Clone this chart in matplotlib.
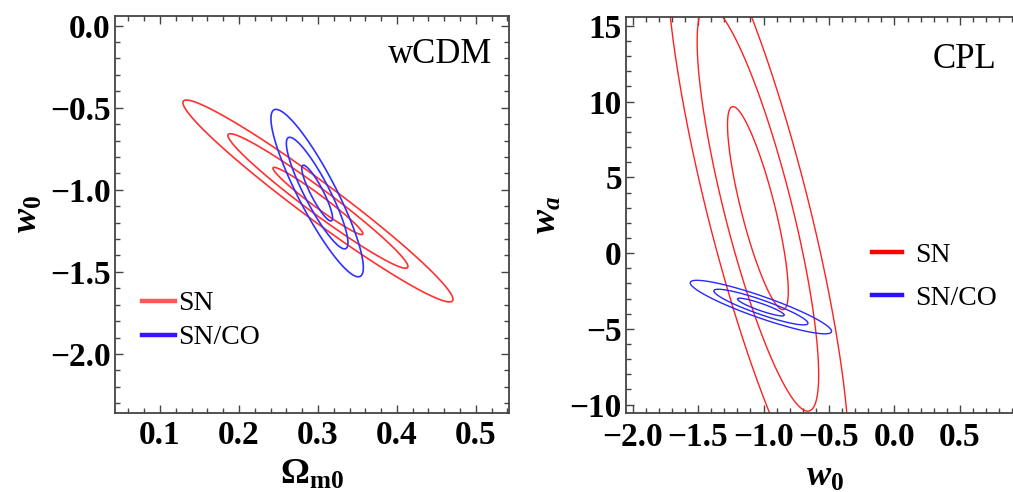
import numpy as np
import matplotlib
matplotlib.use('Agg')
import matplotlib.pyplot as plt
from matplotlib.ticker import MultipleLocator
from matplotlib.lines import Line2D

plt.rcParams['font.family'] = ['Liberation Serif', 'DejaVu Serif']
plt.rcParams['font.weight'] = 'bold'
plt.rcParams['mathtext.fontset'] = 'custom'
plt.rcParams['mathtext.rm'] = 'Liberation Serif:bold'
plt.rcParams['mathtext.it'] = 'Liberation Serif:italic:bold'
plt.rcParams['mathtext.bf'] = 'Liberation Serif:bold'

# gaussian fits: centre, (sigma_x, sigma_y), correlation
names = ['SN', 'SN/CO']
levels = [1, 4, 9]  # 1, 2, 3 sigma

wcdm_center = [(0.300, -1.068), (0.299, -1.020)]
wcdm_sigma = [(0.057, 0.205), (0.0195, 0.170)]
wcdm_rho = [-0.974, -0.89]

cpl_center = [(-1.043, 2.97), (-1.02, -3.56)]
cpl_sigma = [(0.232, 6.7), (0.18, 0.589)]
cpl_rho = [-0.82, -0.905]


def chi2(X, Y, c, s, r):
    dx = (X - c[0]) / s[0]
    dy = (Y - c[1]) / s[1]
    return (dx**2 - 2*r*dx*dy + dy**2) / (1 - r**2)


def style(ax, xmaj, xmin, ymaj, ymin, xpad):
    ax.xaxis.set_major_locator(MultipleLocator(xmaj))
    ax.xaxis.set_minor_locator(MultipleLocator(xmin))
    ax.yaxis.set_major_locator(MultipleLocator(ymaj))
    ax.yaxis.set_minor_locator(MultipleLocator(ymin))
    ax.tick_params(which='both', direction='in', top=True, right=True,
                   color='#444444', width=1.0, labelsize=24)
    ax.tick_params(which='major', length=6)
    ax.tick_params(which='minor', length=3.5)
    ax.tick_params(axis='x', pad=xpad)
    ax.tick_params(axis='y', pad=3)
    for sp in ax.spines.values():
        sp.set_color('#444444')
        sp.set_linewidth(1.3)


fig = plt.figure(figsize=(10.13, 4.92), dpi=100)

# 左图 wCDM
ax1 = fig.add_axes([0.1135, 0.1612, 0.389, 0.8063])
x = np.linspace(0.0, 0.6, 600)
y = np.linspace(-2.5, 0.2, 600)
X, Y = np.meshgrid(x, y)
cols1 = ['#ff3030', '#3030ff']
for c, s, r, col in zip(wcdm_center, wcdm_sigma, wcdm_rho, cols1):
    ax1.contour(X, Y, chi2(X, Y, c, s, r), levels=levels, colors=col, linewidths=1.2)
ax1.set_xlim(0.043, 0.542)
ax1.set_ylim(-2.358, 0.059)
style(ax1, 0.1, 0.02, 0.5, 0.1, 5)
ax1.set_xlabel(r'$\Omega_{\mathrm{m0}}$', fontsize=26, labelpad=6)
ax1.set_ylabel(r'$w_0$', fontsize=26, labelpad=4)
ax1.text(0.956, 0.902, 'wCDM', transform=ax1.transAxes, ha='right', va='center',
         fontsize=25, fontweight='normal')
h1 = [Line2D([], [], color='#ff5858', lw=3.2), Line2D([], [], color='#3a14ff', lw=3.2)]
ax1.legend(h1, names, loc='center left', bbox_to_anchor=(0.068, 0.232), frameon=False,
           prop={'size': 20, 'weight': 'normal'}, handlelength=1.2, handletextpad=0.12,
           labelspacing=0.3, borderpad=0, borderaxespad=0)

# 右图 CPL
ax2 = fig.add_axes([0.618, 0.16, 0.393, 0.805])
x = np.linspace(-2.5, 1.2, 700)
y = np.linspace(-25, 30, 700)
X, Y = np.meshgrid(x, y)
cols2 = ['#ff2020', '#2828ff']
for c, s, r, col in zip(cpl_center, cpl_sigma, cpl_rho, cols2):
    ax2.contour(X, Y, chi2(X, Y, c, s, r), levels=levels, colors=col, linewidths=1.0)
ax2.set_xlim(-2.05, 0.99)
ax2.set_ylim(-10.57, 15.57)
style(ax2, 0.5, 0.1, 5, 1, 6)
ax2.set_xlabel(r'$w_0$', fontsize=26, labelpad=6)
ax2.set_ylabel(r'$w_a$', fontsize=26, labelpad=4)
ax2.text(0.929, 0.892, 'CPL', transform=ax2.transAxes, ha='right', va='center',
         fontsize=25, fontweight='normal')
h2 = [Line2D([], [], color='#ff0000', lw=3.2), Line2D([], [], color='#2a10ff', lw=3.2)]
ax2.legend(h2, names, loc='center left', bbox_to_anchor=(0.6175, 0.345), frameon=False,
           prop={'size': 20, 'weight': 'normal'}, handlelength=1.1, handletextpad=0.45,
           labelspacing=0.65, borderpad=0, borderaxespad=0)

fig.savefig('out.png', dpi=100)
